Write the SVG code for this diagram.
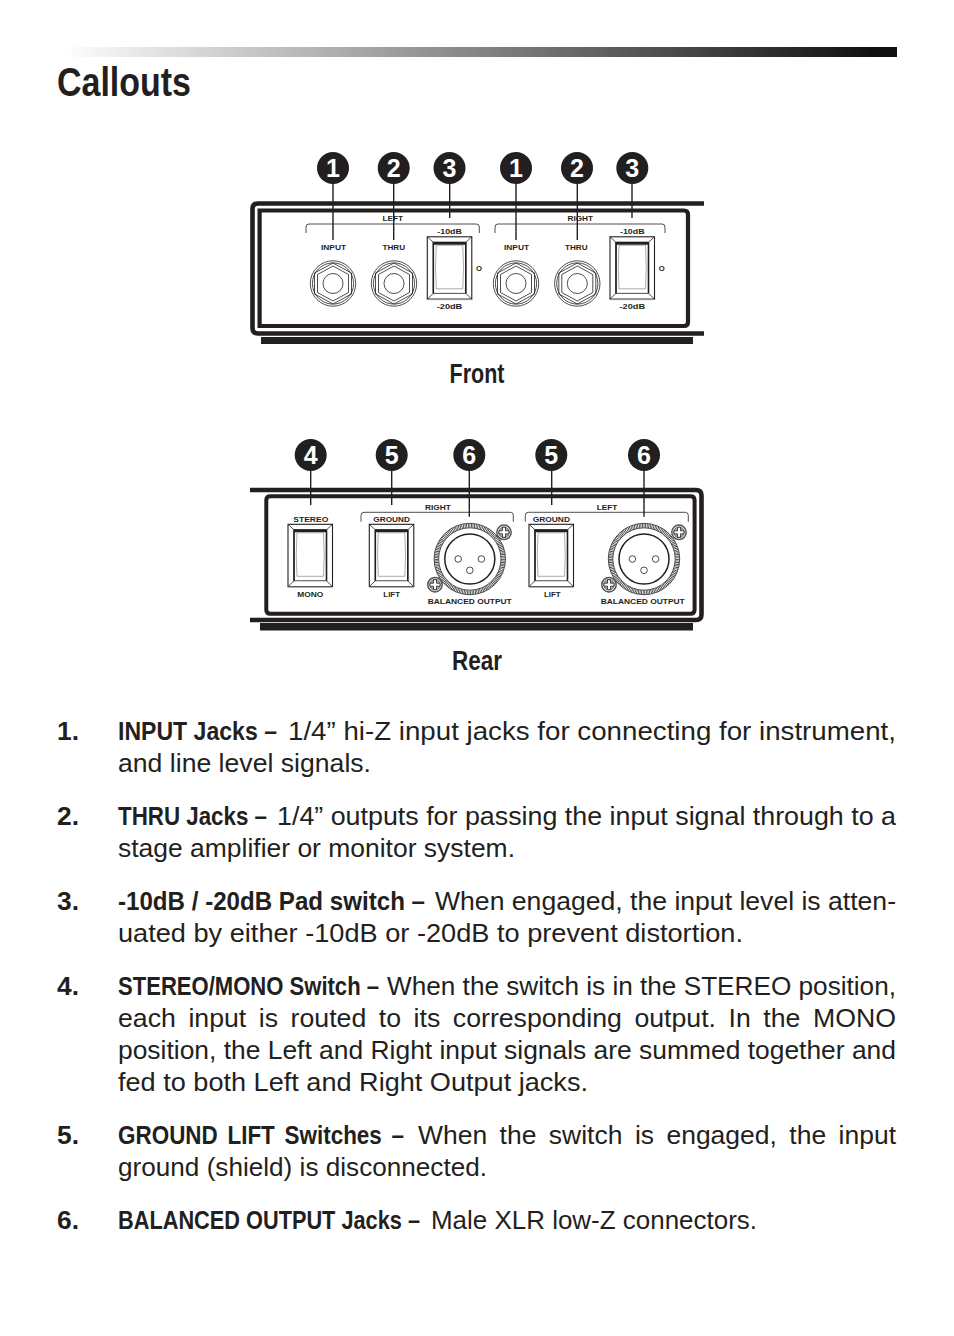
<svg xmlns="http://www.w3.org/2000/svg" xmlns:xlink="http://www.w3.org/1999/xlink" width="954" height="1336" viewBox="0 0 954 1336">
<style>
text{font-family:"Liberation Sans",Arial,sans-serif;fill:#231f20}
.b{font-size:26px;font-weight:700}
.r{font-size:26px}
.h{font-size:27px;font-weight:700}
.t{font-size:8px;font-weight:700;text-anchor:start}
.n{font-size:25px;font-weight:700;fill:#fff;text-anchor:middle}
.ln{fill:none;stroke:#231f20;stroke-width:1.1}
.lead{fill:none;stroke:#231f20;stroke-width:1.4}
.th{fill:none;stroke:#231f20;stroke-width:.8}
.bar{fill:none;stroke:#231f20;stroke-width:4.6}
.bk{fill:#231f20}
</style>
<defs>
<linearGradient id="g" x1="0" x2="1" y1="0" y2="0"><stop offset="0" stop-color="#fff"/><stop offset="0.97" stop-color="#111"/><stop offset="1" stop-color="#111"/></linearGradient>
<circle id="badge" r="16" class="bk"/>
<g id="jack"><circle r="22.7" class="th"/><circle r="20.6" class="th"/><path class="th" d="M0-20.5L18.5-10.5V10.5L0 20.500L-18.5 10.5V-10.5Z"/><path class="th" d="M0-17.500L15.5-9V9L0 17.500L-15.5 9V-9Z"/><circle r="10" class="th"/></g>
<g id="sw"><rect x="0" y="0" width="44.5" height="62.3" class="ln" fill="#fff"/><path class="th" d="M0 0L6 5.5M44.5 0L38.5 5.5M0 62.3L6 56.5M44.5 62.3L38.5 56.5"/><rect x="6" y="5.5" width="32.5" height="51" class="th"/><path d="M6 6.5H38.5" stroke="#231f20" stroke-width="3" fill="none"/><path d="M6 5.5V56.5M38.5 5.5V56.5" stroke="#231f20" stroke-width="1.6" fill="none"/><path d="M9 8.5H35.5Q37 30 35.5 52H9Q7.5 30 9 8.5Z" stroke="#888" stroke-width="0.7" fill="#fff"/><path d="M0 62.8H44.5" stroke="#999" stroke-width="1"/></g>
<g id="xlr"><circle r="35.7" class="th"/><circle r="33.4" fill="none" stroke="#333" stroke-width="4" stroke-dasharray=".8 .8"/><circle r="31.2" class="th"/><circle r="25" fill="none" stroke="#231f20" stroke-width="1.5"/><circle cx="-11.6" r="3.3" class="th"/><circle cx="11.6" r="3.3" class="th"/><circle cy="11.3" r="3.3" class="th"/></g>
<g id="scr"><circle r="7.2" fill="#fff" stroke="#555" stroke-width="1.5"/><circle r="5.3" fill="#aaa" stroke="#444" stroke-width="0.7"/><path d="M-1.5-5H1.5V-1.5H5V1.5H1.5V5H-1.5V1.5H-5V-1.5H-1.5Z" fill="#fff" stroke="#231f20" stroke-width="0.8"/></g>
</defs>
<rect width="954" height="1336" fill="#fff"/>

<g id="header">
<rect x="60" y="47" width="837" height="10" fill="url(#g)"/>
<text x="57" y="96" font-size="40" font-weight="700" textLength="134" lengthAdjust="spacingAndGlyphs">Callouts</text>
</g>

<g id="front-panel">
<path class="bar" d="M704 203.5H258Q252.5 203.5 252.5 209V328Q252.5 333.5 258 333.5H704"/>
<path class="bar" d="M259.6 210.5H684Q688 210.5 688 214.5V322Q688 326 684 326H259.6Z" style="stroke-width:4.2"/>
<rect x="261" y="337" width="432" height="7" class="bk"/>
<path class="th" d="M306 233V227Q306 224 309 224H476.3Q479.3 224 479.3 227V233"/>
<path class="th" d="M495 233V227Q495 224 498 224H662Q665 224 665 227V233"/>
<text class="t" x="382.5" y="221" textLength="20.5" lengthAdjust="spacingAndGlyphs">LEFT</text>
<text class="t" x="567.5" y="221" textLength="25.5" lengthAdjust="spacingAndGlyphs">RIGHT</text>
<text class="t" x="321" y="250" textLength="25" lengthAdjust="spacingAndGlyphs">INPUT</text>
<text class="t" x="382.5" y="250" textLength="22.5" lengthAdjust="spacingAndGlyphs">THRU</text>
<text class="t" x="504" y="250" textLength="25" lengthAdjust="spacingAndGlyphs">INPUT</text>
<text class="t" x="565" y="250" textLength="22.5" lengthAdjust="spacingAndGlyphs">THRU</text>
<text class="t" x="437.3" y="234" textLength="24.5" lengthAdjust="spacingAndGlyphs">-10dB</text>
<text class="t" x="620" y="234" textLength="24.5" lengthAdjust="spacingAndGlyphs">-10dB</text>
<text class="t" x="436.7" y="308.5" textLength="25.6" lengthAdjust="spacingAndGlyphs">-20dB</text>
<text class="t" x="619.5" y="308.5" textLength="25.6" lengthAdjust="spacingAndGlyphs">-20dB</text>
<text class="t" x="476" y="270.5" textLength="6" lengthAdjust="spacingAndGlyphs">O</text>
<text class="t" x="658.8" y="270.5" textLength="6" lengthAdjust="spacingAndGlyphs">O</text>
<use xlink:href="#jack" href="#jack" x="333" y="283.5"/>
<use xlink:href="#jack" href="#jack" x="394" y="283.5"/>
<use xlink:href="#jack" href="#jack" x="516" y="283.5"/>
<use xlink:href="#jack" href="#jack" x="577.3" y="283.5"/>
<use xlink:href="#sw" href="#sw" x="427.3" y="236.8"/>
<use xlink:href="#sw" href="#sw" x="610" y="236.8"/>
<text x="477" y="383" class="h" text-anchor="middle" textLength="55" lengthAdjust="spacingAndGlyphs">Front</text>
</g>

<g id="rear-panel">
<path class="bar" d="M250 490H696Q701.5 490 701.5 495.500V614.500Q701.500 620 696 620H250"/>
<path class="bar" d="M272 496.300H690.500Q694.600 496.300 694.600 500V609.700Q694.600 613.700 690.500 613.700H270.300Q266.300 613.700 266.300 609.700V500Q266.300 496.300 270.300 496.300Z" style="stroke-width:4"/>
<rect x="260" y="623" width="433" height="7.500" class="bk"/>
<path class="th" d="M361 521.700V515.300Q361 512.300 364 512.300H510.300Q513.300 512.300 513.300 515.300V521.700"/>
<path class="th" d="M525.300 521.700V515.300Q525.300 512.300 528.300 512.300H685.300Q688.300 512.300 688.300 515.300V521.700"/>
<text class="t" x="425" y="510" textLength="25.700" lengthAdjust="spacingAndGlyphs">RIGHT</text>
<text class="t" x="596.700" y="510" textLength="20.600" lengthAdjust="spacingAndGlyphs">LEFT</text>
<text class="t" x="293.300" y="522.300" textLength="35" lengthAdjust="spacingAndGlyphs">STEREO</text>
<text class="t" x="373.300" y="522.300" textLength="36.700" lengthAdjust="spacingAndGlyphs">GROUND</text>
<text class="t" x="532.700" y="522.300" textLength="37.300" lengthAdjust="spacingAndGlyphs">GROUND</text>
<text class="t" x="297.300" y="597.300" textLength="26" lengthAdjust="spacingAndGlyphs">MONO</text>
<text class="t" x="383.300" y="597.300" textLength="16.700" lengthAdjust="spacingAndGlyphs">LIFT</text>
<text class="t" x="544" y="597.300" textLength="16.700" lengthAdjust="spacingAndGlyphs">LIFT</text>
<text class="t" x="427.700" y="604.300" textLength="84" lengthAdjust="spacingAndGlyphs">BALANCED OUTPUT</text>
<text class="t" x="600.700" y="604.300" textLength="84" lengthAdjust="spacingAndGlyphs">BALANCED OUTPUT</text>
<use xlink:href="#sw" href="#sw" x="288" y="524.300"/>
<use xlink:href="#sw" href="#sw" x="369.300" y="524.300"/>
<use xlink:href="#sw" href="#sw" x="529" y="524.300"/>
<use xlink:href="#xlr" href="#xlr" x="469.800" y="559"/>
<use xlink:href="#xlr" href="#xlr" x="644" y="559"/>
<use xlink:href="#scr" href="#scr" x="504" y="532.300"/>
<use xlink:href="#scr" href="#scr" x="435" y="584.700"/>
<use xlink:href="#scr" href="#scr" x="679" y="532.300"/>
<use xlink:href="#scr" href="#scr" x="609" y="584.700"/>
<text x="477" y="670" class="h" text-anchor="middle" textLength="50" lengthAdjust="spacingAndGlyphs">Rear</text>
</g>

<g id="connectors">
<path class="lead" d="M333 168V240M393.700 168V240M449.700 168V218M516 168V240M577.300 168V240M632 168V218"/>
<path class="lead" d="M310.700 455V505M391.700 455V505M469.300 455V516.700M551.700 455V505M644 455V516.700"/>
</g>

<g id="badge-f1"><use xlink:href="#badge" href="#badge" x="333" y="168"/><text class="n" x="333" y="176.500">1</text></g>
<g id="badge-f2"><use xlink:href="#badge" href="#badge" x="393.700" y="168"/><text class="n" x="393.700" y="176.500">2</text></g>
<g id="badge-f3"><use xlink:href="#badge" href="#badge" x="449.500" y="168"/><text class="n" x="449.500" y="176.500">3</text></g>
<g id="badge-f4"><use xlink:href="#badge" href="#badge" x="516" y="168"/><text class="n" x="516" y="176.500">1</text></g>
<g id="badge-f5"><use xlink:href="#badge" href="#badge" x="577" y="168"/><text class="n" x="577" y="176.500">2</text></g>
<g id="badge-f6"><use xlink:href="#badge" href="#badge" x="632.300" y="168"/><text class="n" x="632.300" y="176.500">3</text></g>
<g id="badge-r4"><use xlink:href="#badge" href="#badge" x="310.700" y="455"/><text class="n" x="310.700" y="463.500">4</text></g>
<g id="badge-r5"><use xlink:href="#badge" href="#badge" x="391.700" y="455"/><text class="n" x="391.700" y="463.500">5</text></g>
<g id="badge-r6"><use xlink:href="#badge" href="#badge" x="469.300" y="455"/><text class="n" x="469.300" y="463.500">6</text></g>
<g id="badge-r5b"><use xlink:href="#badge" href="#badge" x="551.300" y="455"/><text class="n" x="551.300" y="463.500">5</text></g>
<g id="badge-r6b"><use xlink:href="#badge" href="#badge" x="644" y="455"/><text class="n" x="644" y="463.500">6</text></g>

<g id="list">
<text class="b" x="57" y="740" textLength="22" lengthAdjust="spacingAndGlyphs">1.</text>
<text class="b" x="118" y="740" textLength="159" lengthAdjust="spacingAndGlyphs">INPUT Jacks –</text>
<text class="r" x="288" y="740" textLength="608" lengthAdjust="spacingAndGlyphs">1/4” hi-Z input jacks for connecting for instrument,</text>
<text class="r" x="118" y="772" textLength="253" lengthAdjust="spacingAndGlyphs">and line level signals.</text>
<text class="b" x="57" y="825" textLength="22" lengthAdjust="spacingAndGlyphs">2.</text>
<text class="b" x="118" y="825" textLength="149" lengthAdjust="spacingAndGlyphs">THRU Jacks –</text>
<text class="r" x="277" y="825" textLength="619" lengthAdjust="spacingAndGlyphs">1/4” outputs for passing the input signal through to a</text>
<text class="r" x="118" y="857" textLength="397" lengthAdjust="spacingAndGlyphs">stage amplifier or monitor system.</text>
<text class="b" x="57" y="910" textLength="22" lengthAdjust="spacingAndGlyphs">3.</text>
<text class="b" x="118" y="910" textLength="307" lengthAdjust="spacingAndGlyphs">-10dB / -20dB Pad switch –</text>
<text class="r" x="435" y="910" textLength="461" lengthAdjust="spacingAndGlyphs">When engaged, the input level is atten-</text>
<text class="r" x="118" y="942" textLength="625" lengthAdjust="spacingAndGlyphs">uated by either -10dB or -20dB to prevent distortion.</text>
<text class="b" x="57" y="995" textLength="22" lengthAdjust="spacingAndGlyphs">4.</text>
<text class="b" transform="translate(118 995) scale(.88 1)" textLength="296.600" lengthAdjust="spacingAndGlyphs">STEREO/MONO Switch –</text>
<text class="r" x="387" y="995" textLength="509" lengthAdjust="spacingAndGlyphs">When the switch is in the STEREO position,</text>
<text class="r" x="118" y="1027" textLength="778" lengthAdjust="spacingAndGlyphs" style="word-spacing:5px">each input is routed to its corresponding output. In the MONO</text>
<text class="r" x="118" y="1059" textLength="778" lengthAdjust="spacingAndGlyphs">position, the Left and Right input signals are summed together and</text>
<text class="r" x="118" y="1091" textLength="470" lengthAdjust="spacingAndGlyphs">fed to both Left and Right Output jacks.</text>
<text class="b" x="57" y="1144" textLength="22" lengthAdjust="spacingAndGlyphs">5.</text>
<text class="b" x="118" y="1144" textLength="286" lengthAdjust="spacingAndGlyphs" style="word-spacing:4px">GROUND LIFT Switches –</text>
<text class="r" x="418" y="1144" textLength="478" lengthAdjust="spacingAndGlyphs" style="word-spacing:5px">When the switch is engaged, the input</text>
<text class="r" x="118" y="1176" textLength="369" lengthAdjust="spacingAndGlyphs">ground (shield) is disconnected.</text>
<text class="b" x="57" y="1229" textLength="22" lengthAdjust="spacingAndGlyphs">6.</text>
<text class="b" transform="translate(118 1229) scale(.86 1)" textLength="351.200" lengthAdjust="spacingAndGlyphs">BALANCED OUTPUT Jacks –</text>
<text class="r" x="431" y="1229" textLength="326" lengthAdjust="spacingAndGlyphs">Male XLR low-Z connectors.</text>
</g>
</svg>
